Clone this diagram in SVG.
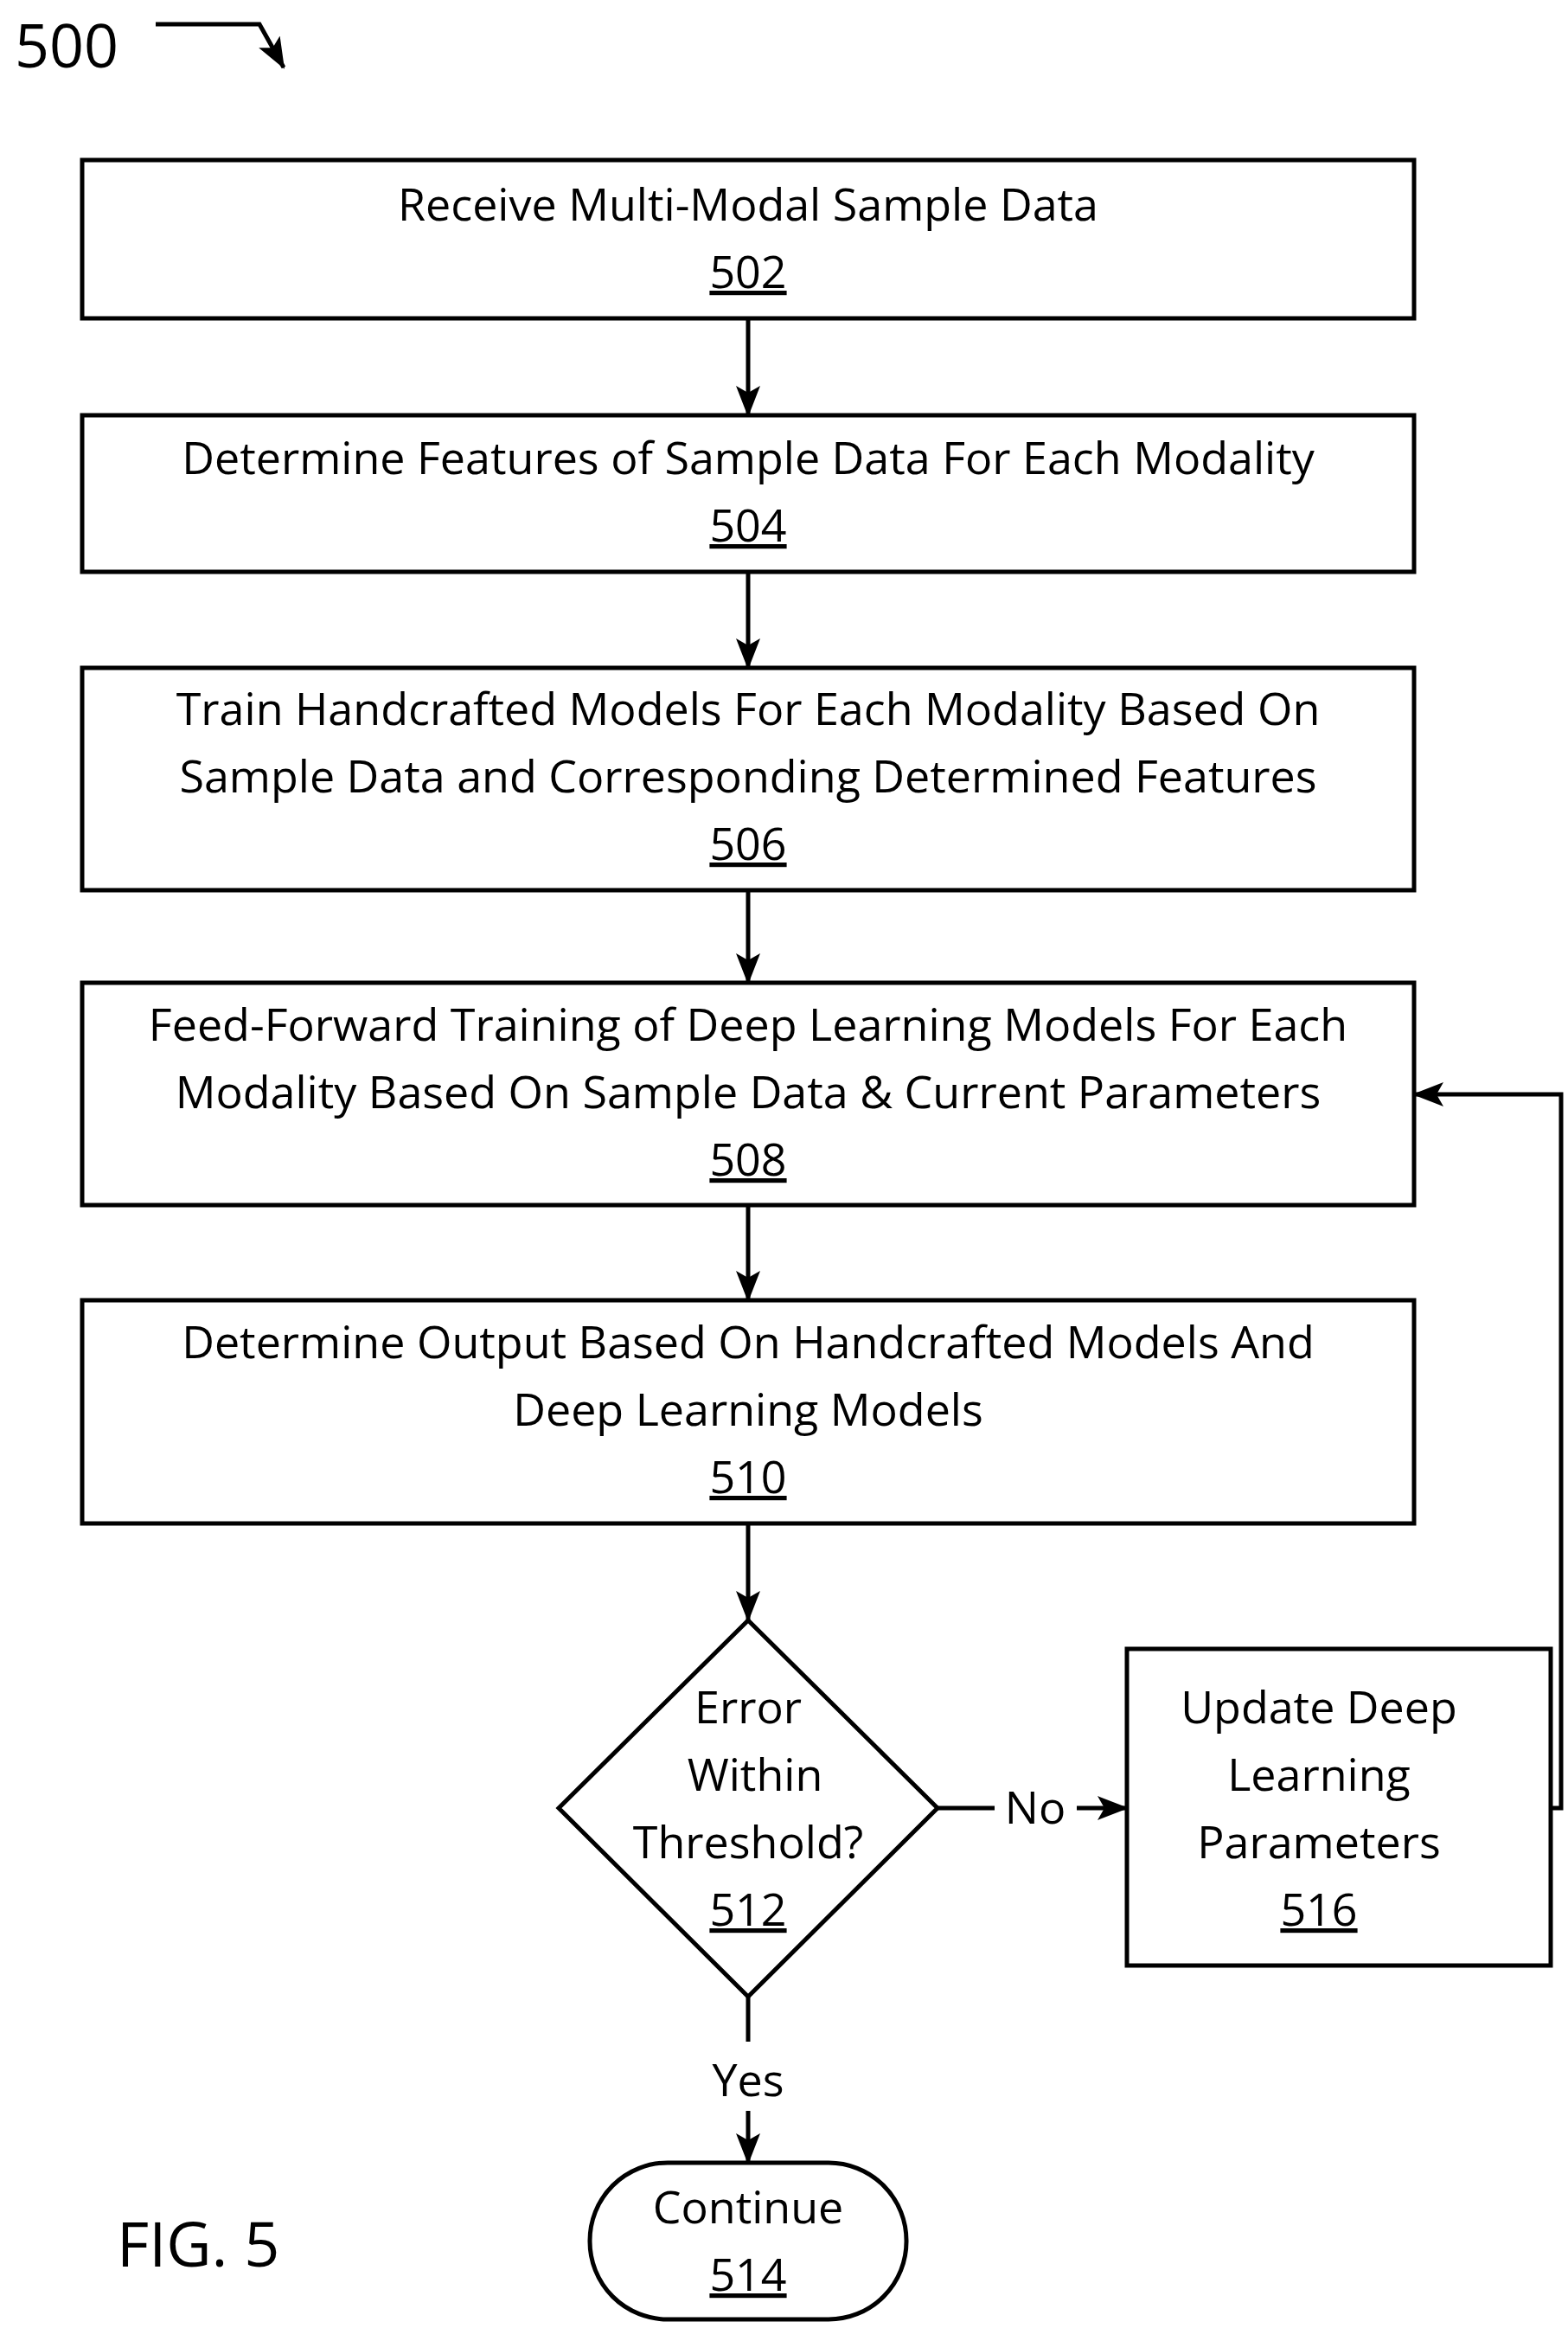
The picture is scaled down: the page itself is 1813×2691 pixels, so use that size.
<svg xmlns="http://www.w3.org/2000/svg" width="1813" height="2691" viewBox="0 0 1813 2691">
<style>
.b{fill:#fff;stroke:#000;stroke-width:5}
.t{font-family:"Open Sans","Liberation Sans",sans-serif;font-size:52px;text-anchor:middle;fill:#000}
.u{text-decoration:underline}
.c{fill:none;stroke:#000;stroke-width:5}
</style>
<defs><marker id="a" markerWidth="10" markerHeight="10" refX="9" refY="5" orient="auto" markerUnits="userSpaceOnUse" viewBox="0 0 10 10"><path d="M0,0 L10,5 L0,10 z"/></marker>
<marker id="m" markerWidth="36" markerHeight="36" refX="34" refY="18" orient="auto" markerUnits="userSpaceOnUse"><path d="M0,4 L36,18 L0,32 L8,18 z"/></marker></defs>
<text x="17" y="78" style="font-family:'Open Sans',sans-serif;font-size:70px">500</text>
<path d="M180,28 L300,28 L328,78" class="c" marker-end="url(#m)"/>
<text x="135" y="2620" style="font-family:'Open Sans',sans-serif;font-size:72px">FIG. 5</text>
<g id="connectors">
<path class="c" d="M865,368 V480" marker-end="url(#m)"/>
<path class="c" d="M865,661 V772" marker-end="url(#m)"/>
<path class="c" d="M865,1029 V1136" marker-end="url(#m)"/>
<path class="c" d="M865,1393 V1503" marker-end="url(#m)"/>
<path class="c" d="M865,1761 V1873" marker-end="url(#m)"/>
<path class="c" d="M1084,2090 H1150 M1245,2090 H1303" marker-end="url(#m)"/>
<path class="c" d="M1793,2090 H1805 V1265 H1635" marker-end="url(#m)"/>
<path class="c" d="M865,2308 V2360 M865,2440 V2500" marker-end="url(#m)"/>
<text class="t" x="1197" y="2108">No</text>
<text class="t" x="865" y="2423">Yes</text>
</g>
<g id="n502"><rect class="b" x="95" y="185" width="1540" height="183"/><text class="t" x="865" y="255">Receive Multi-Modal Sample Data</text><text class="t u" x="865" y="333">502</text></g>
<g id="n504"><rect class="b" x="95" y="480" width="1540" height="181"/><text class="t" x="865" y="548">Determine Features of Sample Data For Each Modality</text><text class="t u" x="865" y="626">504</text></g>
<g id="n506"><rect class="b" x="95" y="772" width="1540" height="257"/><text class="t" x="865" y="838">Train Handcrafted Models For Each Modality Based On</text><text class="t" x="865" y="916">Sample Data and Corresponding Determined Features</text><text class="t u" x="865" y="994">506</text></g>
<g id="n508"><rect class="b" x="95" y="1136" width="1540" height="257"/><text class="t" x="865" y="1203">Feed-Forward Training of Deep Learning Models For Each</text><text class="t" x="865" y="1281">Modality Based On Sample Data &amp; Current Parameters</text><text class="t u" x="865" y="1359">508</text></g>
<g id="n510"><rect class="b" x="95" y="1503" width="1540" height="258"/><text class="t" x="865" y="1570">Determine Output Based On Handcrafted Models And</text><text class="t" x="865" y="1648">Deep Learning Models</text><text class="t u" x="865" y="1726">510</text></g>
<g id="n512"><path class="b" d="M865,1873 L1084,2090 L865,2308 L646,2090 z"/><text class="t" x="865" y="1992">Error</text><text class="t" x="873" y="2070">Within</text><text class="t" x="865" y="2148">Threshold?</text><text class="t u" x="865" y="2226">512</text></g>
<g id="n516"><rect class="b" x="1303" y="1906" width="490" height="366"/><text class="t" x="1525" y="1992">Update Deep</text><text class="t" x="1525" y="2070">Learning</text><text class="t" x="1525" y="2148">Parameters</text><text class="t u" x="1525" y="2226">516</text></g>
<g id="n514"><rect class="b" x="682" y="2500" width="366" height="181" rx="90"/><text class="t" x="865" y="2570">Continue</text><text class="t u" x="865" y="2648">514</text></g>
</svg>
